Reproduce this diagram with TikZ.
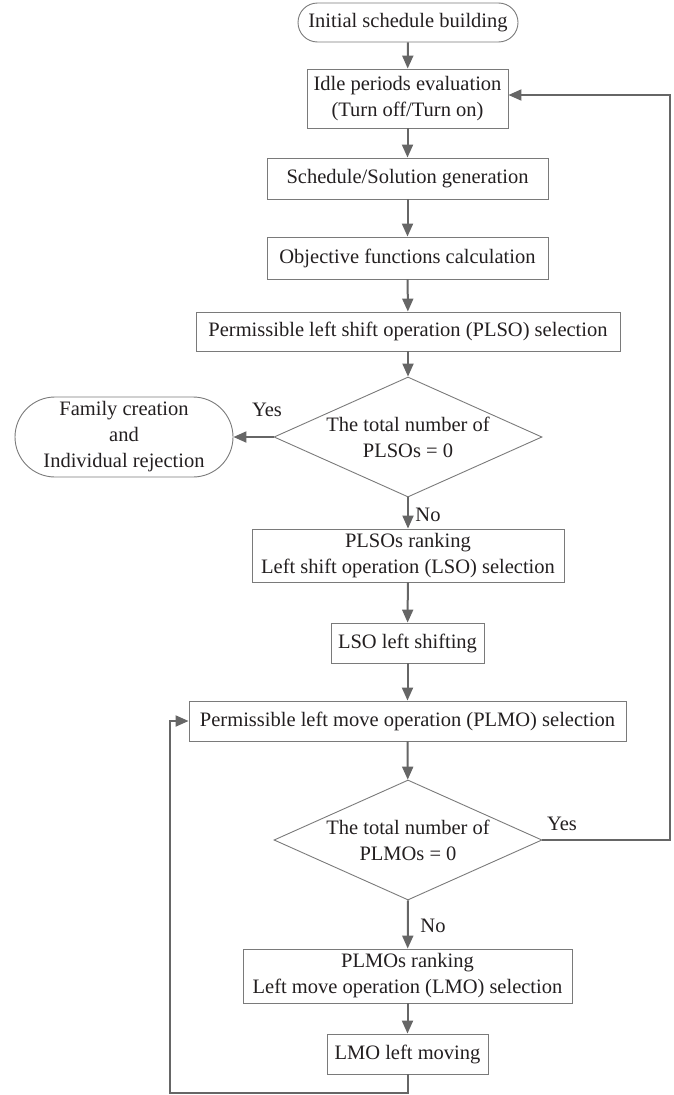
\documentclass[tikz,border=0pt]{standalone}
\usepackage{fontspec}
\setmainfont{Liberation Serif}
\usetikzlibrary{arrows.meta,shapes.geometric,calc}
\definecolor{edgegray}{HTML}{666666}
\definecolor{framegray}{HTML}{7A7A7A}
\definecolor{inkblack}{HTML}{231F20}
\begin{document}
\begin{tikzpicture}[x=1pt,y=-1pt,
  txt/.style={font=\fontsize{20.5}{26}\selectfont, text=inkblack, align=center},
  proc/.style={txt, draw=framegray, line width=0.9pt, inner sep=0pt},
  terminal/.style={proc, rounded corners=19.5pt},
  bigterminal/.style={proc, rounded corners=40pt},
  decision/.style={diamond, draw=framegray, line width=0.9pt, inner sep=0pt,
                   minimum width=268pt, minimum height=120pt},
  flow/.style={draw=edgegray, line width=2pt, -{Triangle[length=13pt,width=11pt]}}]
\useasboundingbox (0,0) rectangle (673,1095);

% main column of steps
\node[terminal, minimum width=220pt, minimum height=39pt] (init) at (408,22.5) {Initial schedule building};
\node[proc, minimum width=201pt, minimum height=59pt] (idle) at (407.5,98.5) {Idle periods evaluation\\(Turn off/Turn on)};
\node[proc, minimum width=281pt, minimum height=41pt] (sched) at (407.5,178.5) {Schedule/Solution generation};
\node[proc, minimum width=281pt, minimum height=42pt] (obj) at (407.5,258) {Objective functions calculation};
\node[proc, minimum width=424pt, minimum height=39pt] (plso) at (408,331.5) {Permissible left shift operation (PLSO) selection};

\node[decision] (d1) at (408,437) {};
\node[txt] (d1t) at (d1.center) {The total number of\\PLSOs = 0};

\node[bigterminal, minimum width=218pt, minimum height=80pt] (fam) at (124,437) {Family creation\\and\\Individual rejection};

\node[proc, minimum width=312pt, minimum height=53pt] (rank1) at (408,555.5) {PLSOs ranking\\Left shift operation (LSO) selection};
\node[proc, minimum width=153pt, minimum height=40pt] (lso) at (407.5,643) {LSO left shifting};
\node[proc, minimum width=437pt, minimum height=40pt] (plmo) at (407.5,721) {Permissible left move operation (PLMO) selection};

\node[decision] (d2) at (408,840) {};
\node[txt] (d2t) at (d2.center) {The total number of\\PLMOs = 0};

\node[proc, minimum width=329pt, minimum height=54pt] (rank2) at (407.5,976) {PLMOs ranking\\Left move operation (LMO) selection};
\node[proc, minimum width=161pt, minimum height=40pt] (lmo) at (407.5,1054) {LMO left moving};

% branch labels
\node[txt] (yes1) at (267,410) {Yes};
\node[txt] (yes2) at (562,824) {Yes};
\node[txt] (no1) at (428,515) {No};
\node[txt] (no2) at (433,926) {No};

% loop corners
\coordinate (loopR) at (670,840);
\coordinate (loopB) at (170,1093);

% connectors
\draw[flow] (init) -- (idle);
\draw[flow] (idle) -- (sched);
\draw[flow] (sched) -- (obj);
\draw[flow] (obj) -- (plso);
\draw[flow] (plso) -- (d1);
\draw[flow] (d1.west) -- (fam.east);
\draw[flow] (d1.south) -- (rank1);
\draw[flow] (rank1) -- (lso);
\draw[flow] (lso) -- (plmo);
\draw[flow] (plmo) -- (d2);
\draw[flow] (d2.south) -- (rank2);
\draw[flow] (rank2) -- (lmo);
\draw[flow] (d2.east) -- (loopR) |- ([yshift=3.5pt]idle.east);
\draw[flow] (lmo.south) |- (loopB) |- (plmo.west);
\end{tikzpicture}
\end{document}
